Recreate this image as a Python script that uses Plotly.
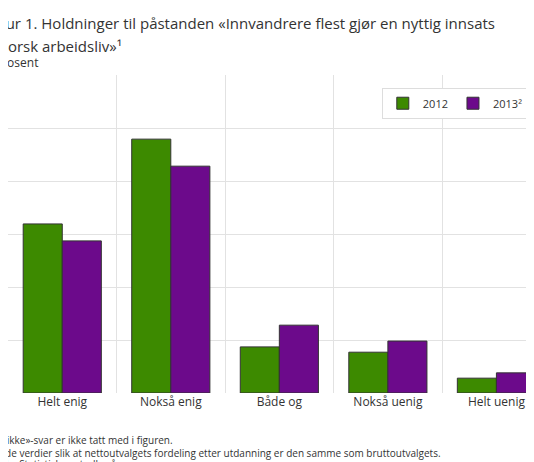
import plotly.graph_objects as go

categories = ['Helt enig', 'Nokså enig', 'Både og', 'Nokså uenig', 'Helt uenig']
values_2012 = [31.9, 47.9, 8.7, 7.7, 2.8]
values_2013 = [28.7, 42.8, 12.8, 9.8, 3.8]

xpos = list(range(len(categories)))
font = 'Open Sans'

fig = go.Figure()
fig.add_trace(go.Bar(x=xpos, y=values_2012, name='2012',
                     marker=dict(color='#3d8a00', line=dict(color='#333333', width=1))))
fig.add_trace(go.Bar(x=xpos, y=values_2013, name='2013²',
                     marker=dict(color='#6c0a8b', line=dict(color='#333333', width=1))))

fig.update_layout(
    width=534, height=462,
    margin=dict(l=0, r=0, t=67, b=77, autoexpand=False),
    paper_bgcolor='white', plot_bgcolor='white',
    barmode='group', bargap=0.28, bargroupgap=0,
    font=dict(family=font, color='#222222'),
    legend=dict(orientation='h', x=0.70, y=0.96, xanchor='left', yanchor='top',
                bordercolor='#dddddd', borderwidth=1, bgcolor='white',
                itemwidth=30, font=dict(size=11, color='#333333')),
    xaxis=dict(range=[-0.5, 4.42], tickvals=xpos, ticktext=categories,
               showgrid=False, zeroline=False, ticks='', tickfont=dict(size=12, color='#333333'),
               minor=dict(tickvals=[0.5, 1.5, 2.5, 3.5], showgrid=True, gridcolor='#e2e2e2', gridwidth=1)),
    yaxis=dict(range=[0, 60], dtick=10, showticklabels=False, gridcolor='#e2e2e2',
               zeroline=False, showline=False),
)

notes = [
    ('Figur 1. Holdninger til påstanden «Innvandrere flest gjør en nyttig innsats', -24, 1.163, 15),
    ('i norsk arbeidsliv»¹', -19, 1.091, 15),
    ('Prosent', -15, 1.038, 12),
    ('¹ «Vet ikke»-svar er ikke tatt med i figuren.', -32, -0.148, 10),
    ('² Vektede verdier slik at nettoutvalgets fordeling etter utdanning er den samme som bruttoutvalgets.', -37, -0.189, 10),
    ('Kilde: Statistisk sentralbyrå.', -19, -0.223, 10),
]
for text, xs, ypaper, size in notes:
    fig.add_annotation(text=text, xref='paper', yref='paper', x=0, y=ypaper,
                       xanchor='left', yanchor='middle', xshift=xs, showarrow=False,
                       font=dict(size=size, family=font, color='#333333'))

fig.write_html('out.html')
